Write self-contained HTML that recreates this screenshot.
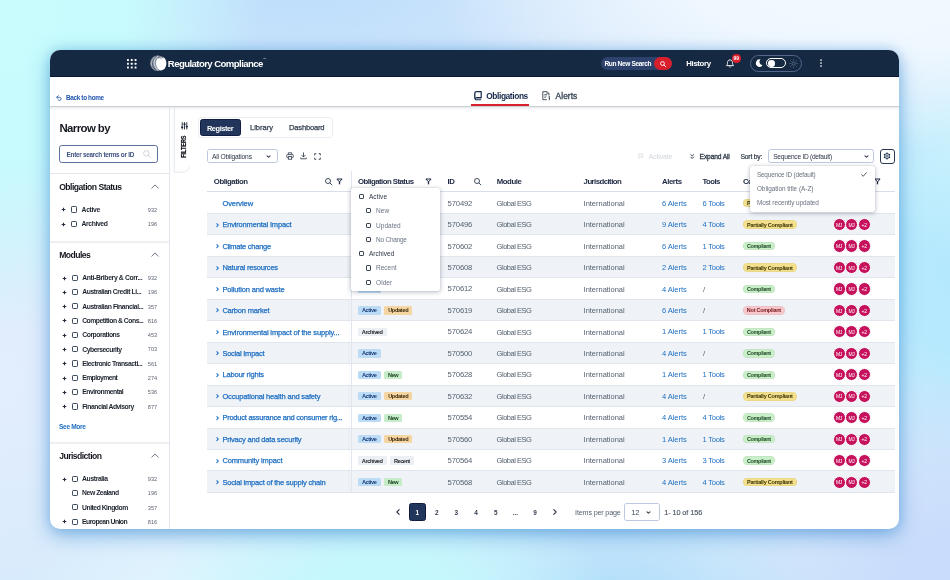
<!DOCTYPE html>
<html lang="en"><head><meta charset="utf-8"><title>Regulatory Compliance - Obligations Register</title>
<style>
html,body{margin:0;padding:0}
body{width:950px;height:580px;overflow:hidden;position:relative;font-family:"Liberation Sans", sans-serif;background:radial-gradient(ellipse 270px 340px at -10px -10px, #c8fcfd 0%, #c7fbfd 50%, rgba(199,251,253,0) 100%),radial-gradient(ellipse 450px 170px at 880px -20px, #f2f9ff 0%, #f0f8ff 40%, rgba(240,248,255,0) 100%),radial-gradient(ellipse 230px 130px at 380px 600px, #c5f9fd 0%, #c5f8fd 30%, rgba(197,248,253,0) 100%),radial-gradient(ellipse 170px 110px at 190px 600px, #e2f6fe 0%, rgba(226,246,254,0) 100%),radial-gradient(ellipse 220px 140px at 610px 610px, #acddfa 0%, rgba(172,221,250,0) 100%),radial-gradient(ellipse 260px 230px at 970px 600px, #c9dcfb 0%, #c9dcfb 30%, rgba(201,220,251,0) 100%),radial-gradient(ellipse 110px 110px at 965px 150px, rgba(200,242,253,.9) 0%, rgba(200,242,253,0) 100%),radial-gradient(ellipse 230px 240px at 975px 270px, #b4e8fd 0%, #b6e9fd 35%, rgba(182,233,253,0) 100%),radial-gradient(ellipse 330px 160px at 300px -20px, #bcdefb 0%, rgba(188,222,251,0) 100%),radial-gradient(ellipse 200px 200px at -10px 380px, #e3eefd 0%, rgba(227,238,253,0) 100%),linear-gradient(180deg,#d3e6fb 0%, #dbe9fc 50%, #d8ebfc 100%);}
.t{position:absolute;white-space:nowrap;font-family:"Liberation Sans", sans-serif}
svg{display:block;overflow:visible}
#stage{position:absolute;left:0;top:0;width:950px;height:580px;will-change:transform;transform:translateZ(0)}

.card{position:absolute;left:50px;top:50px;width:849px;height:479px;border-radius:10px;background:#fff;
 box-shadow:0 6px 20px 0 rgba(40,128,204,.5), 0 0 12px rgba(40,128,204,.24);}
.cb{position:absolute;width:4.3px;height:4.3px;border:1.1px solid #3d4a5c;border-radius:1.2px;box-sizing:content-box;background:#fff}
.badge{position:absolute;height:8.4px;border-radius:1.5px}
.pill{position:absolute;height:8.6px;border-radius:5px;box-shadow:inset 0 0 0 .6px rgba(0,0,0,.07)}
.av{position:absolute;width:11.2px;height:11.2px;border-radius:50%;background:#c6125c;border:.8px solid #fff}

</style></head><body>
<div id="stage">
<div class="card"></div>
<div style="position:absolute;left:50px;top:50px;width:849px;height:27px;background:#152942;border-radius:10px 10px 0 0;border-bottom:1px solid #0a1632;box-sizing:border-box"></div>
<svg style="position:absolute;left:126.75px;top:58.75px;" width="9.5" height="9.5" viewBox="0 0 9.5 9.5" fill="none"><rect x="0" y="0" width="1.9" height="1.9" rx=".5" fill="#fff"/><rect x="0" y="3.8" width="1.9" height="1.9" rx=".5" fill="#fff"/><rect x="0" y="7.6" width="1.9" height="1.9" rx=".5" fill="#fff"/><rect x="3.8" y="0" width="1.9" height="1.9" rx=".5" fill="#fff"/><rect x="3.8" y="3.8" width="1.9" height="1.9" rx=".5" fill="#fff"/><rect x="3.8" y="7.6" width="1.9" height="1.9" rx=".5" fill="#fff"/><rect x="7.6" y="0" width="1.9" height="1.9" rx=".5" fill="#fff"/><rect x="7.6" y="3.8" width="1.9" height="1.9" rx=".5" fill="#fff"/><rect x="7.6" y="7.6" width="1.9" height="1.9" rx=".5" fill="#fff"/></svg>
<svg style="position:absolute;left:150.3px;top:55px;" width="16.4" height="16.4" viewBox="0 0 16.4 16.4" fill="none"><ellipse cx="7.600" cy="8.300" rx="7.500" ry="7.800" fill="#fff" fill-opacity=".5"/><path d="M6.800 1.300C3.400 2.600 1.800 6.400 2.700 10.300c.5 2 1.700 3.600 3.300 4.700" stroke="#152942" stroke-width=".7" stroke-opacity=".7"/><path d="M8.300 1C4.900 2.400 3.700 6.300 4.500 9.900c.5 2.100 1.600 3.900 3.300 5.100" stroke="#fff" stroke-width=".8" stroke-opacity=".75"/><path d="M4.600 2.500C2 4.500 1.100 7.700 1.700 10.700" stroke="#fff" stroke-width=".6" stroke-opacity=".6"/><ellipse cx="11.200" cy="8.500" rx="5.200" ry="6.900" fill="#fff"/><path d="M7.900 3.200c1.600-1.500 4-1.700 5.600-.3" stroke="#152942" stroke-width=".9" stroke-opacity=".85"/><path d="M9.500 3.900c1-.5 2.100-.3 2.800.5" stroke="#152942" stroke-width=".6" stroke-opacity=".6"/></svg>
<span class="t" style="left:167.80px;top:57.66px;font-size:9.6px;line-height:12.48px;color:#fff;font-weight:700;letter-spacing:-0.579px;">Regulatory Compliance</span>
<span class="t" style="left:263.20px;top:58.25px;font-size:3px;line-height:3.9px;color:#fff;">™</span>
<div style="position:absolute;left:600.8px;top:57.2px;width:71.4px;height:13px;border-radius:7px;background:#2c416c"></div>
<div style="position:absolute;left:654px;top:57.2px;width:18.2px;height:13px;border-radius:7px;background:#da1f2c"></div>
<span class="t" style="left:604.40px;top:59.91px;font-size:6.6px;line-height:8.58px;color:#fff;font-weight:700;letter-spacing:-0.368px;">Run New Search</span>
<svg style="position:absolute;left:659.9px;top:60.7px;" width="6" height="6" viewBox="0 0 6 6" fill="none"><circle cx="2.5" cy="2.5" r="1.9" stroke="#fff" stroke-width=".9"/><path d="M3.9 3.9L5.6 5.6" stroke="#fff" stroke-width=".9" stroke-linecap="round"/></svg>
<span class="t" style="left:686.30px;top:59.03px;font-size:7.8px;line-height:10.14px;color:#fff;font-weight:700;letter-spacing:-0.354px;">History</span>
<svg style="position:absolute;left:726.2px;top:59.3px;" width="8" height="9" viewBox="0 0 8 9" fill="none"><path d="M4 .9c-1.6 0-2.5 1.2-2.5 2.8 0 1.7-.5 2.3-1 2.9h7c-.5-.6-1-1.200-1-2.900 0-1.600-.9-2.800-2.500-2.800z" stroke="#fff" stroke-width=".9" stroke-linejoin="round"/><path d="M3.100 7.6a1 1 0 0 0 1.800 0" stroke="#fff" stroke-width=".8"/></svg>
<div style="position:absolute;left:731.8px;top:54.3px;width:8.8px;height:8.8px;border-radius:50%;background:#e0202d"></div>
<span class="t" style="left:733.49px;top:55.91px;font-size:4.9px;line-height:6.37px;color:#fff;font-weight:700;letter-spacing:-0.027px;">99</span>
<div style="position:absolute;left:749.6px;top:54.9px;width:52.2px;height:16.8px;border-radius:9px;border:.9px solid #55668c;box-sizing:border-box"></div>
<svg style="position:absolute;left:754.6px;top:59.3px;" width="8" height="8" viewBox="0 0 8 8" fill="none"><path d="M5.400.5A3.700 3.700 0 1 0 7.600 6.300 3.400 3.400 0 0 1 5.400.5z" fill="#fff"/></svg>
<div style="position:absolute;left:765.7px;top:58.4px;width:20.4px;height:9.8px;border-radius:5px;border:1px solid #fff;box-sizing:border-box"></div>
<div style="position:absolute;left:768px;top:60px;width:6.6px;height:6.6px;border-radius:50%;background:#fff"></div>
<svg style="position:absolute;left:788.8px;top:58.9px;" width="9" height="9" viewBox="0 0 9 9" fill="none"><circle cx="4.500" cy="4.500" r="1.500" stroke="#6a7b9e" stroke-width=".7"/><path d="M4.500 .3v1.300" stroke="#6a7b9e" stroke-width=".7" transform="rotate(0 4.500 4.500)"/><path d="M4.500 .3v1.300" stroke="#6a7b9e" stroke-width=".7" transform="rotate(45 4.500 4.500)"/><path d="M4.500 .3v1.300" stroke="#6a7b9e" stroke-width=".7" transform="rotate(90 4.500 4.500)"/><path d="M4.500 .3v1.300" stroke="#6a7b9e" stroke-width=".7" transform="rotate(135 4.500 4.500)"/><path d="M4.500 .3v1.300" stroke="#6a7b9e" stroke-width=".7" transform="rotate(180 4.500 4.500)"/><path d="M4.500 .3v1.300" stroke="#6a7b9e" stroke-width=".7" transform="rotate(225 4.500 4.500)"/><path d="M4.500 .3v1.300" stroke="#6a7b9e" stroke-width=".7" transform="rotate(270 4.500 4.500)"/><path d="M4.500 .3v1.300" stroke="#6a7b9e" stroke-width=".7" transform="rotate(315 4.500 4.500)"/></svg>
<svg style="position:absolute;left:820.2px;top:59.3px;" width="2" height="8" viewBox="0 0 2 8" fill="none"><circle cx="1" cy="1" r=".85" fill="#fff"/><circle cx="1" cy="4" r=".85" fill="#fff"/><circle cx="1" cy="7" r=".85" fill="#fff"/></svg>
<svg style="position:absolute;left:56.1px;top:94.5px;" width="6" height="5.6" viewBox="0 0 6 5.6" fill="none"><path d="M2.300.7L.7 2.300l1.600 1.600" stroke="#1f55ad" stroke-width=".8" stroke-linecap="round" stroke-linejoin="round"/><path d="M.9 2.300h2.700a1.500 1.500 0 0 1 0 3H2.700" stroke="#1f55ad" stroke-width=".8" stroke-linecap="round"/></svg>
<span class="t" style="left:66.00px;top:93.84px;font-size:6.4px;line-height:8.32px;color:#1f55ad;font-weight:700;letter-spacing:-0.342px;">Back to home</span>
<svg style="position:absolute;left:473.5px;top:90.9px;" width="8" height="9.4" viewBox="0 0 8 9.4" fill="none"><path d="M2.300.7h4.900v6H2.300" stroke="#15284a" stroke-width="1.200" stroke-linejoin="round"/><path d="M2.400.7C1.400.7.800 1.300.800 2.200v5.500" stroke="#15284a" stroke-width="1.300"/><path d="M7.200 6.800H2.200a1 1 0 0 0 0 2h5" stroke="#15284a" stroke-width="1.100" stroke-linejoin="round"/></svg>
<span class="t" style="left:486.20px;top:90.94px;font-size:8.4px;line-height:10.92px;color:#15284a;font-weight:700;letter-spacing:-0.397px;">Obligations</span>
<div style="position:absolute;left:471.2px;top:103.9px;width:58.2px;height:2.2px;background:#d9202d;"></div>
<svg style="position:absolute;left:541.9px;top:90.9px;" width="9" height="9.4" viewBox="0 0 9 9.4" fill="none"><path d="M.8.700h4.300L7 2.600V4.500M.8.700v8h4" stroke="#46515f" stroke-width="1" stroke-linejoin="round"/><path d="M5 .8v2h2" stroke="#46515f" stroke-width=".7"/><path d="M2.300 3.500h2.600M2.300 5h2.600M2.300 6.500h1.600" stroke="#46515f" stroke-width=".75"/><path d="M7.300 5.500v1.900" stroke="#46515f" stroke-width="1.200" stroke-linecap="round"/><circle cx="7.300" cy="8.700" r=".65" fill="#46515f"/></svg>
<span class="t" style="left:555.60px;top:90.94px;font-size:8.4px;line-height:10.92px;color:#3a4658;letter-spacing:0.046px;-webkit-text-stroke:.35px #3a4658;">Alerts</span>
<div style="position:absolute;left:50px;top:106px;width:849px;height:1.2px;background:#cccfd3;"></div>
<div style="position:absolute;left:50px;top:107.2px;width:849px;height:3px;background:linear-gradient(180deg,rgba(40,50,70,.10),rgba(40,50,70,0));"></div>
<div style="position:absolute;left:169px;top:107.2px;width:1px;height:422px;background:#e4e8ee;"></div>
<span class="t" style="left:59.40px;top:120.69px;font-size:11.4px;line-height:14.82px;color:#15181f;font-weight:700;letter-spacing:-0.567px;">Narrow by</span>
<div style="position:absolute;left:59.1px;top:145.3px;width:98.8px;height:17.5px;border:1.25px solid #5d719d;border-radius:2.8px;box-sizing:border-box;background:#fff"></div>
<span class="t" style="left:66.60px;top:150.54px;font-size:6.4px;line-height:8.32px;color:#3d5080;font-weight:700;letter-spacing:-0.285px;">Enter search terms or ID</span>
<svg style="position:absolute;left:143.4px;top:150.4px;" width="8" height="8" viewBox="0 0 8 8" fill="none"><circle cx="3.300" cy="3.300" r="2.700" stroke="#c3c9d3" stroke-width=".8"/><path d="M5.300 5.300L7.500 7.500" stroke="#c3c9d3" stroke-width=".8" stroke-linecap="round"/></svg>
<div style="position:absolute;left:50px;top:172.6px;width:119px;height:1px;background:#e4e8ee;"></div>
<span class="t" style="left:59.20px;top:181.91px;font-size:8.6px;line-height:11.18px;color:#15181f;font-weight:700;letter-spacing:-0.514px;">Obligation Status</span>
<svg style="position:absolute;left:150.5px;top:183.9px;" width="8" height="5" viewBox="0 0 8 5" fill="none"><path d="M.7 4.200L4 .9l3.300 3.300" stroke="#4a5362" stroke-width=".8" stroke-linecap="round" stroke-linejoin="round"/></svg>
<svg style="position:absolute;left:61.1px;top:207.3px;" width="5" height="5" viewBox="0 0 5 5" fill="none"><path d="M2.500.7v3.600M.7 2.500h3.600" stroke="#222b38" stroke-width="1.100"/></svg>
<div class="cb" style="left:70.9px;top:206.4px"></div>
<span class="t" style="left:81.60px;top:205.88px;font-size:6.8px;line-height:8.84px;color:#1d232e;font-weight:700;letter-spacing:-0.334px;">Active</span>
<span class="t" style="left:147.86px;top:206.76px;font-size:5.6px;line-height:7.28px;color:#5d6673;">932</span>
<svg style="position:absolute;left:61.1px;top:221.6px;" width="5" height="5" viewBox="0 0 5 5" fill="none"><path d="M2.500.7v3.600M.7 2.500h3.600" stroke="#222b38" stroke-width="1.100"/></svg>
<div class="cb" style="left:70.9px;top:220.7px"></div>
<span class="t" style="left:81.60px;top:220.18px;font-size:6.8px;line-height:8.84px;color:#1d232e;font-weight:700;letter-spacing:-0.412px;">Archived</span>
<span class="t" style="left:147.86px;top:221.06px;font-size:5.6px;line-height:7.28px;color:#5d6673;">196</span>
<div style="position:absolute;left:50px;top:241.4px;width:119px;height:1.8px;background:#eef0f4;"></div>
<span class="t" style="left:59.20px;top:250.31px;font-size:8.6px;line-height:11.18px;color:#15181f;font-weight:700;letter-spacing:-0.551px;">Modules</span>
<svg style="position:absolute;left:150.5px;top:252.3px;" width="8" height="5" viewBox="0 0 8 5" fill="none"><path d="M.7 4.200L4 .9l3.300 3.300" stroke="#4a5362" stroke-width=".8" stroke-linecap="round" stroke-linejoin="round"/></svg>
<svg style="position:absolute;left:61.7px;top:275.5px;" width="5" height="5" viewBox="0 0 5 5" fill="none"><path d="M2.500.7v3.600M.7 2.500h3.600" stroke="#222b38" stroke-width="1.100"/></svg>
<div class="cb" style="left:71.5px;top:274.6px"></div>
<span class="t" style="left:82.20px;top:274.08px;font-size:6.8px;line-height:8.84px;color:#1d232e;font-weight:700;letter-spacing:-0.346px;">Anti-Bribery &amp; Corr...</span>
<span class="t" style="left:147.86px;top:274.96px;font-size:5.6px;line-height:7.28px;color:#5d6673;">932</span>
<svg style="position:absolute;left:61.7px;top:289.8px;" width="5" height="5" viewBox="0 0 5 5" fill="none"><path d="M2.500.7v3.600M.7 2.500h3.600" stroke="#222b38" stroke-width="1.100"/></svg>
<div class="cb" style="left:71.5px;top:288.9px"></div>
<span class="t" style="left:82.20px;top:288.38px;font-size:6.8px;line-height:8.84px;color:#1d232e;font-weight:700;letter-spacing:-0.407px;">Australian Credit Li...</span>
<span class="t" style="left:147.86px;top:289.26px;font-size:5.6px;line-height:7.28px;color:#5d6673;">196</span>
<svg style="position:absolute;left:61.7px;top:304.1px;" width="5" height="5" viewBox="0 0 5 5" fill="none"><path d="M2.500.7v3.600M.7 2.500h3.600" stroke="#222b38" stroke-width="1.100"/></svg>
<div class="cb" style="left:71.5px;top:303.2px"></div>
<span class="t" style="left:82.20px;top:302.68px;font-size:6.8px;line-height:8.84px;color:#1d232e;font-weight:700;letter-spacing:-0.403px;">Australian Financial...</span>
<span class="t" style="left:147.86px;top:303.56px;font-size:5.6px;line-height:7.28px;color:#5d6673;">357</span>
<svg style="position:absolute;left:61.7px;top:318.4px;" width="5" height="5" viewBox="0 0 5 5" fill="none"><path d="M2.500.7v3.600M.7 2.500h3.600" stroke="#222b38" stroke-width="1.100"/></svg>
<div class="cb" style="left:71.5px;top:317.5px"></div>
<span class="t" style="left:82.20px;top:316.98px;font-size:6.8px;line-height:8.84px;color:#1d232e;font-weight:700;letter-spacing:-0.476px;">Competition &amp; Cons...</span>
<span class="t" style="left:147.86px;top:317.86px;font-size:5.6px;line-height:7.28px;color:#5d6673;">816</span>
<svg style="position:absolute;left:61.7px;top:332.7px;" width="5" height="5" viewBox="0 0 5 5" fill="none"><path d="M2.500.7v3.600M.7 2.500h3.600" stroke="#222b38" stroke-width="1.100"/></svg>
<div class="cb" style="left:71.5px;top:331.8px"></div>
<span class="t" style="left:82.20px;top:331.28px;font-size:6.8px;line-height:8.84px;color:#1d232e;font-weight:700;letter-spacing:-0.431px;">Corporations</span>
<span class="t" style="left:147.86px;top:332.16px;font-size:5.6px;line-height:7.28px;color:#5d6673;">453</span>
<svg style="position:absolute;left:61.7px;top:347px;" width="5" height="5" viewBox="0 0 5 5" fill="none"><path d="M2.500.7v3.600M.7 2.500h3.600" stroke="#222b38" stroke-width="1.100"/></svg>
<div class="cb" style="left:71.5px;top:346.1px"></div>
<span class="t" style="left:82.20px;top:345.58px;font-size:6.8px;line-height:8.84px;color:#1d232e;font-weight:700;letter-spacing:-0.450px;">Cybersecurity</span>
<span class="t" style="left:147.86px;top:346.46px;font-size:5.6px;line-height:7.28px;color:#5d6673;">703</span>
<svg style="position:absolute;left:61.7px;top:361.3px;" width="5" height="5" viewBox="0 0 5 5" fill="none"><path d="M2.500.7v3.600M.7 2.500h3.600" stroke="#222b38" stroke-width="1.100"/></svg>
<div class="cb" style="left:71.5px;top:360.4px"></div>
<span class="t" style="left:82.20px;top:359.88px;font-size:6.8px;line-height:8.84px;color:#1d232e;font-weight:700;letter-spacing:-0.446px;">Electronic Transacti...</span>
<span class="t" style="left:147.86px;top:360.76px;font-size:5.6px;line-height:7.28px;color:#5d6673;">561</span>
<svg style="position:absolute;left:61.7px;top:375.6px;" width="5" height="5" viewBox="0 0 5 5" fill="none"><path d="M2.500.7v3.600M.7 2.500h3.600" stroke="#222b38" stroke-width="1.100"/></svg>
<div class="cb" style="left:71.5px;top:374.7px"></div>
<span class="t" style="left:82.20px;top:374.18px;font-size:6.8px;line-height:8.84px;color:#1d232e;font-weight:700;letter-spacing:-0.580px;">Employment</span>
<span class="t" style="left:147.86px;top:375.06px;font-size:5.6px;line-height:7.28px;color:#5d6673;">274</span>
<svg style="position:absolute;left:61.7px;top:389.9px;" width="5" height="5" viewBox="0 0 5 5" fill="none"><path d="M2.500.7v3.600M.7 2.500h3.600" stroke="#222b38" stroke-width="1.100"/></svg>
<div class="cb" style="left:71.5px;top:389px"></div>
<span class="t" style="left:82.20px;top:388.48px;font-size:6.8px;line-height:8.84px;color:#1d232e;font-weight:700;letter-spacing:-0.478px;">Environmental</span>
<span class="t" style="left:147.86px;top:389.36px;font-size:5.6px;line-height:7.28px;color:#5d6673;">536</span>
<svg style="position:absolute;left:61.7px;top:404.2px;" width="5" height="5" viewBox="0 0 5 5" fill="none"><path d="M2.500.7v3.600M.7 2.500h3.600" stroke="#222b38" stroke-width="1.100"/></svg>
<div class="cb" style="left:71.5px;top:403.3px"></div>
<span class="t" style="left:82.20px;top:402.78px;font-size:6.8px;line-height:8.84px;color:#1d232e;font-weight:700;letter-spacing:-0.483px;">Financial Advisory</span>
<span class="t" style="left:147.86px;top:403.66px;font-size:5.6px;line-height:7.28px;color:#5d6673;">877</span>
<span class="t" style="left:59.00px;top:422.81px;font-size:6.6px;line-height:8.58px;color:#1f6fc2;font-weight:700;letter-spacing:-0.341px;">See More</span>
<div style="position:absolute;left:50px;top:442px;width:119px;height:1.8px;background:#eef0f4;"></div>
<span class="t" style="left:59.20px;top:451.41px;font-size:8.6px;line-height:11.18px;color:#15181f;font-weight:700;letter-spacing:-0.535px;">Jurisdiction</span>
<svg style="position:absolute;left:150.5px;top:453.4px;" width="8" height="5" viewBox="0 0 8 5" fill="none"><path d="M.7 4.200L4 .9l3.300 3.300" stroke="#4a5362" stroke-width=".8" stroke-linecap="round" stroke-linejoin="round"/></svg>
<svg style="position:absolute;left:62.1px;top:476.5px;" width="5" height="5" viewBox="0 0 5 5" fill="none"><path d="M2.500.7v3.600M.7 2.500h3.600" stroke="#222b38" stroke-width="1.100"/></svg>
<div class="cb" style="left:71.9px;top:475.6px"></div>
<span class="t" style="left:82.10px;top:475.08px;font-size:6.8px;line-height:8.84px;color:#1d232e;font-weight:700;letter-spacing:-0.388px;">Australia</span>
<span class="t" style="left:147.86px;top:475.96px;font-size:5.6px;line-height:7.28px;color:#5d6673;">932</span>
<div class="cb" style="left:71.9px;top:489.9px"></div>
<span class="t" style="left:82.10px;top:489.38px;font-size:6.8px;line-height:8.84px;color:#1d232e;font-weight:700;letter-spacing:-0.451px;">New Zealand</span>
<span class="t" style="left:147.86px;top:490.26px;font-size:5.6px;line-height:7.28px;color:#5d6673;">196</span>
<div class="cb" style="left:71.9px;top:504.2px"></div>
<span class="t" style="left:82.10px;top:503.68px;font-size:6.8px;line-height:8.84px;color:#1d232e;font-weight:700;letter-spacing:-0.492px;">United Kingdom</span>
<span class="t" style="left:147.86px;top:504.56px;font-size:5.6px;line-height:7.28px;color:#5d6673;">357</span>
<svg style="position:absolute;left:62.1px;top:519.4px;" width="5" height="5" viewBox="0 0 5 5" fill="none"><path d="M2.500.7v3.600M.7 2.500h3.600" stroke="#222b38" stroke-width="1.100"/></svg>
<div class="cb" style="left:71.9px;top:518.5px"></div>
<span class="t" style="left:82.10px;top:517.98px;font-size:6.8px;line-height:8.84px;color:#1d232e;font-weight:700;letter-spacing:-0.536px;">European Union</span>
<span class="t" style="left:147.86px;top:518.86px;font-size:5.6px;line-height:7.28px;color:#5d6673;">816</span>
<svg style="position:absolute;left:170px;top:107px" width="24" height="70" viewBox="0 0 24 70" fill="none"><path d="M4.200 0V65.200H11.500C15.800 65.200 18.800 63.400 19.400 59.600" stroke="#e3e7ed" stroke-width="1"/></svg>
<svg style="position:absolute;left:180.6px;top:121.7px;" width="7" height="7.6" viewBox="0 0 7 7.6" fill="none"><path d="M1.200.2v7.200M3.500.2v7.200M5.800.2v7.200" stroke="#1c2433" stroke-width=".9"/><rect x=".2" y="4.600" width="2" height="1.500" fill="#1c2433"/><rect x="2.500" y="1.500" width="2" height="1.500" fill="#1c2433"/><rect x="4.800" y="3.800" width="2" height="1.500" fill="#1c2433"/></svg>
<span class="t" style="left:169.49px;top:141.72px;font-size:7.2px;line-height:9.36px;color:#0e1117;font-weight:700;transform:rotate(-90deg) scaleX(.76);transform-origin:50% 50%;-webkit-text-stroke:.2px #0e1117;">FILTERS</span>
<div style="position:absolute;left:198.300px;top:117.1px;width:135.2px;height:21.4px;border:1px solid #eaedf3;border-radius:3.5px;box-sizing:border-box;background:#fff"></div>
<div style="position:absolute;left:200px;top:118.9px;width:41px;height:17.6px;border-radius:2.5px;background:#22355a;border:1px solid #101d40;box-sizing:border-box"></div>
<span class="t" style="left:206.90px;top:123.59px;font-size:7.4px;line-height:9.62px;color:#fff;font-weight:700;letter-spacing:-0.397px;">Register</span>
<span class="t" style="left:250.00px;top:123.46px;font-size:7.6px;line-height:9.88px;color:#343f4f;letter-spacing:-0.046px;-webkit-text-stroke:.25px #343f4f;">Library</span>
<span class="t" style="left:289.10px;top:123.46px;font-size:7.6px;line-height:9.88px;color:#343f4f;letter-spacing:-0.228px;-webkit-text-stroke:.25px #343f4f;">Dashboard</span>
<div style="position:absolute;left:206.700px;top:149.4px;width:71px;height:13.9px;border:1.2px solid #bcc8df;border-radius:2.5px;box-sizing:border-box;background:#fff"></div>
<span class="t" style="left:211.90px;top:152.65px;font-size:6.7px;line-height:8.71px;color:#2b3544;letter-spacing:-0.190px;">All Obligations</span>
<svg style="position:absolute;left:266.4px;top:154.85px;" width="5" height="3.3" viewBox="0 0 5 3.3" fill="none"><path d="M1 .800L2.500 2.200 4 .8" stroke="#2f3a4a" stroke-width="1.050" stroke-linecap="round" stroke-linejoin="round"/></svg>
<svg style="position:absolute;left:285.7px;top:152.3px;" width="8" height="8" viewBox="0 0 8 8" fill="none"><path d="M2.300 2.600V.8h3.400v1.800" stroke="#2b3544" stroke-width=".8"/><rect x=".7" y="2.600" width="6.600" height="3" rx=".8" stroke="#2b3544" stroke-width=".8"/><rect x="2.300" y="4.600" width="3.400" height="2.600" fill="#fff" stroke="#2b3544" stroke-width=".8"/></svg>
<svg style="position:absolute;left:300.4px;top:152.3px;" width="7" height="8" viewBox="0 0 7 8" fill="none"><path d="M3.500.8v4M1.900 3.400l1.600 1.600 1.600-1.600" stroke="#2b3544" stroke-width=".8" stroke-linecap="round" stroke-linejoin="round"/><path d="M.7 5.500v1.300h5.600V5.500" stroke="#2b3544" stroke-width=".8" stroke-linejoin="round"/></svg>
<svg style="position:absolute;left:314.4px;top:152.8px;" width="7" height="7" viewBox="0 0 7 7" fill="none"><path d="M.7 2.300V.7h1.600M4.700.7h1.600v1.600M6.300 4.700v1.600H4.700M2.300 6.300H.7V4.700" stroke="#2b3544" stroke-width=".9"/></svg>
<svg style="position:absolute;left:638.3px;top:153.1px;" width="6" height="6.4" viewBox="0 0 6 6.4" fill="none"><path d="M.9.600v5.400M.9 1h4.200L4.200 2.500l.9 1.500H.9" stroke="#d3d7de" stroke-width=".7" stroke-linejoin="round"/></svg>
<span class="t" style="left:648.80px;top:152.58px;font-size:6.8px;line-height:8.84px;color:#d0d4db;letter-spacing:-0.098px;">Activate</span>
<svg style="position:absolute;left:690.3px;top:153.6px;" width="4.4" height="5.4" viewBox="0 0 4.4 5.4" fill="none"><path d="M.8.700L2.200 2 3.600.7M.8 3.100L2.200 4.500 3.600 3.100" stroke="#2b3544" stroke-width=".95" stroke-linecap="round" stroke-linejoin="round"/></svg>
<span class="t" style="left:699.60px;top:152.65px;font-size:6.7px;line-height:8.71px;color:#2b3544;letter-spacing:-0.151px;-webkit-text-stroke:.28px #2b3544;">Expand All</span>
<span class="t" style="left:740.50px;top:152.58px;font-size:6.8px;line-height:8.84px;color:#2b3544;letter-spacing:-0.228px;-webkit-text-stroke:.2px #2b3544;">Sort by:</span>
<div style="position:absolute;left:768px;top:149.1px;width:106.4px;height:14.2px;border:1.2px solid #bcc8df;border-radius:2.5px;box-sizing:border-box;background:#fff"></div>
<span class="t" style="left:773.20px;top:152.71px;font-size:6.6px;line-height:8.58px;color:#2b3544;letter-spacing:-0.260px;">Sequence ID (default)</span>
<svg style="position:absolute;left:863.5px;top:154.85px;" width="5" height="3.3" viewBox="0 0 5 3.3" fill="none"><path d="M1 .800L2.500 2.200 4 .8" stroke="#2f3a4a" stroke-width="1.050" stroke-linecap="round" stroke-linejoin="round"/></svg>
<div style="position:absolute;left:880px;top:149px;width:14.8px;height:14.6px;border:1.3px solid #27374f;border-radius:3px;box-sizing:border-box;background:#fff"></div>
<svg style="position:absolute;left:883.4px;top:152.4px;" width="8" height="8" viewBox="0 0 8 8" fill="none"><circle cx="4" cy="4" r="1.100" stroke="#15284a" stroke-width=".7"/><circle cx="4" cy="4" r="2.500" stroke="#15284a" stroke-width=".8"/><path d="M4 .5v1.200" stroke="#15284a" stroke-width="1.100" transform="rotate(0 4 4)"/><path d="M4 .5v1.200" stroke="#15284a" stroke-width="1.100" transform="rotate(60 4 4)"/><path d="M4 .5v1.200" stroke="#15284a" stroke-width="1.100" transform="rotate(120 4 4)"/><path d="M4 .5v1.200" stroke="#15284a" stroke-width="1.100" transform="rotate(180 4 4)"/><path d="M4 .5v1.200" stroke="#15284a" stroke-width="1.100" transform="rotate(240 4 4)"/><path d="M4 .5v1.200" stroke="#15284a" stroke-width="1.100" transform="rotate(300 4 4)"/></svg>
<span class="t" style="left:213.80px;top:177.13px;font-size:7.8px;line-height:10.14px;color:#1c2740;font-weight:700;letter-spacing:-0.485px;">Obligation</span>
<svg style="position:absolute;left:324.7px;top:178.1px;" width="7" height="7" viewBox="0 0 7 7" fill="none"><circle cx="3" cy="3" r="2.500" stroke="#3a4556" stroke-width=".95"/><path d="M4.900 4.900L6.900 6.900" stroke="#3a4556" stroke-width=".95" stroke-linecap="round"/></svg>
<svg style="position:absolute;left:335.7px;top:178.3px;" width="7" height="7" viewBox="0 0 7 7" fill="none"><path d="M.9 1h5.200L3.500 3.900z" stroke="#1c2740" stroke-width="1" stroke-linejoin="round"/><path d="M3.500 3.600v2.700" stroke="#1c2740" stroke-width="1.300"/></svg>
<span class="t" style="left:357.90px;top:177.13px;font-size:7.8px;line-height:10.14px;color:#1c2740;font-weight:700;letter-spacing:-0.526px;">Obligation Status</span>
<svg style="position:absolute;left:425px;top:178.3px;" width="7" height="7" viewBox="0 0 7 7" fill="none"><path d="M.9 1h5.200L3.500 3.900z" stroke="#1c2740" stroke-width="1" stroke-linejoin="round"/><path d="M3.500 3.600v2.700" stroke="#1c2740" stroke-width="1.300"/></svg>
<span class="t" style="left:447.60px;top:177.13px;font-size:7.8px;line-height:10.14px;color:#1c2740;font-weight:700;letter-spacing:-0.406px;">ID</span>
<svg style="position:absolute;left:474.1px;top:178.1px;" width="7" height="7" viewBox="0 0 7 7" fill="none"><circle cx="3" cy="3" r="2.500" stroke="#3a4556" stroke-width=".95"/><path d="M4.900 4.900L6.900 6.900" stroke="#3a4556" stroke-width=".95" stroke-linecap="round"/></svg>
<span class="t" style="left:496.70px;top:177.13px;font-size:7.8px;line-height:10.14px;color:#1c2740;font-weight:700;letter-spacing:-0.416px;">Module</span>
<span class="t" style="left:583.60px;top:177.13px;font-size:7.8px;line-height:10.14px;color:#1c2740;font-weight:700;letter-spacing:-0.550px;">Jurisdcition</span>
<span class="t" style="left:661.90px;top:177.13px;font-size:7.8px;line-height:10.14px;color:#1c2740;font-weight:700;letter-spacing:-0.385px;">Alerts</span>
<span class="t" style="left:702.50px;top:177.13px;font-size:7.8px;line-height:10.14px;color:#1c2740;font-weight:700;letter-spacing:-0.600px;">Tools</span>
<span class="t" style="left:742.90px;top:177.13px;font-size:7.8px;line-height:10.14px;color:#1c2740;font-weight:700;letter-spacing:-0.600px;">Compliance</span>
<svg style="position:absolute;left:874.3px;top:178.3px;" width="7" height="7" viewBox="0 0 7 7" fill="none"><path d="M.9 1h5.200L3.500 3.900z" stroke="#1c2740" stroke-width="1" stroke-linejoin="round"/><path d="M3.500 3.600v2.700" stroke="#1c2740" stroke-width="1.300"/></svg>
<div style="position:absolute;left:206.7px;top:191.1px;width:688px;height:1.3px;background:#d9dfea;"></div>
<div style="position:absolute;left:206.7px;top:212.96px;width:688px;height:1px;background:#e1e6ed;"></div>
<span class="t" style="left:222.40px;top:198.75px;font-size:7.5px;line-height:9.75px;color:#1f6fc2;letter-spacing:-0.083px;-webkit-text-stroke:.25px #1f6fc2;">Overview</span>
<span class="t" style="left:447.60px;top:198.62px;font-size:7.7px;line-height:10.01px;color:#566270;letter-spacing:-0.176px;">570492</span>
<span class="t" style="left:496.60px;top:198.75px;font-size:7.5px;line-height:9.75px;color:#566270;letter-spacing:-0.481px;">Global ESG</span>
<span class="t" style="left:583.60px;top:198.75px;font-size:7.5px;line-height:9.75px;color:#566270;letter-spacing:-0.022px;">International</span>
<span class="t" style="left:662.00px;top:198.69px;font-size:7.6px;line-height:9.88px;color:#1f6fc2;letter-spacing:-0.079px;">6 Alerts</span>
<span class="t" style="left:702.60px;top:198.69px;font-size:7.6px;line-height:9.88px;color:#1f6fc2;letter-spacing:-0.291px;">6 Tools</span>
<div class="pill" style="left:742.8px;top:198.83px;width:54.4px;background:#f4e08c"></div>
<span class="t" style="left:747.09px;top:200.16px;font-size:5.5px;line-height:7.15px;color:#3a3205;font-weight:700;letter-spacing:-0.223px;">Partially Compliant</span>
<div style="position:absolute;left:206.7px;top:213.96px;width:688px;height:20.46px;background:#eff3f7;"></div>
<div style="position:absolute;left:206.7px;top:234.42px;width:688px;height:1px;background:#e1e6ed;"></div>
<svg style="position:absolute;left:215.5px;top:222.59px;" width="3" height="4.4" viewBox="0 0 3 4.4" fill="none"><path d="M.8.700L2.300 2.200.8 3.700" stroke="#1f6fc2" stroke-width="1.050" stroke-linecap="round" stroke-linejoin="round"/></svg>
<span class="t" style="left:222.40px;top:220.22px;font-size:7.5px;line-height:9.75px;color:#1f6fc2;letter-spacing:-0.177px;-webkit-text-stroke:.25px #1f6fc2;">Environmental Impact</span>
<span class="t" style="left:447.60px;top:220.09px;font-size:7.7px;line-height:10.01px;color:#566270;letter-spacing:-0.176px;">570496</span>
<span class="t" style="left:496.60px;top:220.22px;font-size:7.5px;line-height:9.75px;color:#566270;letter-spacing:-0.481px;">Global ESG</span>
<span class="t" style="left:583.60px;top:220.22px;font-size:7.5px;line-height:9.75px;color:#566270;letter-spacing:-0.022px;">International</span>
<span class="t" style="left:662.00px;top:220.15px;font-size:7.6px;line-height:9.88px;color:#1f6fc2;letter-spacing:-0.079px;">9 Alerts</span>
<span class="t" style="left:702.60px;top:220.15px;font-size:7.6px;line-height:9.88px;color:#1f6fc2;letter-spacing:-0.291px;">4 Tools</span>
<div class="pill" style="left:742.8px;top:220.29px;width:54.4px;background:#f4e08c"></div>
<span class="t" style="left:747.09px;top:221.62px;font-size:5.5px;line-height:7.15px;color:#3a3205;font-weight:700;letter-spacing:-0.223px;">Partially Compliant</span>
<div class="av" style="left:832.7px;top:217.99px"></div>
<span class="t" style="left:835.96px;top:221.74px;font-size:5px;line-height:6.5px;color:#fff;letter-spacing:-0.386px;">MJ</span>
<div class="av" style="left:845.3px;top:217.99px"></div>
<span class="t" style="left:848.56px;top:221.74px;font-size:5px;line-height:6.5px;color:#fff;letter-spacing:-0.386px;">MJ</span>
<div class="av" style="left:857.9px;top:217.99px"></div>
<span class="t" style="left:861.52px;top:221.74px;font-size:5px;line-height:6.5px;color:#fff;letter-spacing:-0.152px;">+2</span>
<div style="position:absolute;left:206.7px;top:255.88px;width:688px;height:1px;background:#e1e6ed;"></div>
<svg style="position:absolute;left:215.5px;top:244.05px;" width="3" height="4.4" viewBox="0 0 3 4.4" fill="none"><path d="M.8.700L2.300 2.200.8 3.700" stroke="#1f6fc2" stroke-width="1.050" stroke-linecap="round" stroke-linejoin="round"/></svg>
<span class="t" style="left:222.40px;top:241.68px;font-size:7.5px;line-height:9.75px;color:#1f6fc2;letter-spacing:-0.259px;-webkit-text-stroke:.25px #1f6fc2;">Climate change</span>
<span class="t" style="left:447.60px;top:241.55px;font-size:7.7px;line-height:10.01px;color:#566270;letter-spacing:-0.176px;">570602</span>
<span class="t" style="left:496.60px;top:241.68px;font-size:7.5px;line-height:9.75px;color:#566270;letter-spacing:-0.481px;">Global ESG</span>
<span class="t" style="left:583.60px;top:241.68px;font-size:7.5px;line-height:9.75px;color:#566270;letter-spacing:-0.022px;">International</span>
<span class="t" style="left:662.00px;top:241.61px;font-size:7.6px;line-height:9.88px;color:#1f6fc2;letter-spacing:-0.079px;">6 Alerts</span>
<span class="t" style="left:702.60px;top:241.61px;font-size:7.6px;line-height:9.88px;color:#1f6fc2;letter-spacing:-0.291px;">1 Tools</span>
<div class="pill" style="left:742.8px;top:241.75px;width:32.4px;background:#c9efc9"></div>
<span class="t" style="left:746.93px;top:243.08px;font-size:5.5px;line-height:7.15px;color:#1c4722;font-weight:700;letter-spacing:-0.343px;">Compliant</span>
<div class="av" style="left:832.7px;top:239.45px"></div>
<span class="t" style="left:835.96px;top:243.20px;font-size:5px;line-height:6.5px;color:#fff;letter-spacing:-0.386px;">MJ</span>
<div class="av" style="left:845.3px;top:239.45px"></div>
<span class="t" style="left:848.56px;top:243.20px;font-size:5px;line-height:6.5px;color:#fff;letter-spacing:-0.386px;">MJ</span>
<div class="av" style="left:857.9px;top:239.45px"></div>
<span class="t" style="left:861.52px;top:243.20px;font-size:5px;line-height:6.5px;color:#fff;letter-spacing:-0.152px;">+2</span>
<div style="position:absolute;left:206.7px;top:256.88px;width:688px;height:20.46px;background:#eff3f7;"></div>
<div style="position:absolute;left:206.7px;top:277.34px;width:688px;height:1px;background:#e1e6ed;"></div>
<svg style="position:absolute;left:215.5px;top:265.51px;" width="3" height="4.4" viewBox="0 0 3 4.4" fill="none"><path d="M.8.700L2.300 2.200.8 3.700" stroke="#1f6fc2" stroke-width="1.050" stroke-linecap="round" stroke-linejoin="round"/></svg>
<span class="t" style="left:222.40px;top:263.14px;font-size:7.5px;line-height:9.75px;color:#1f6fc2;letter-spacing:-0.218px;-webkit-text-stroke:.25px #1f6fc2;">Natural resources</span>
<span class="t" style="left:447.60px;top:263.01px;font-size:7.7px;line-height:10.01px;color:#566270;letter-spacing:-0.176px;">570608</span>
<span class="t" style="left:496.60px;top:263.14px;font-size:7.5px;line-height:9.75px;color:#566270;letter-spacing:-0.481px;">Global ESG</span>
<span class="t" style="left:583.60px;top:263.14px;font-size:7.5px;line-height:9.75px;color:#566270;letter-spacing:-0.022px;">International</span>
<span class="t" style="left:662.00px;top:263.07px;font-size:7.6px;line-height:9.88px;color:#1f6fc2;letter-spacing:-0.079px;">2 Alerts</span>
<span class="t" style="left:702.60px;top:263.07px;font-size:7.6px;line-height:9.88px;color:#1f6fc2;letter-spacing:-0.291px;">2 Tools</span>
<div class="pill" style="left:742.8px;top:263.21px;width:54.4px;background:#f4e08c"></div>
<span class="t" style="left:747.09px;top:264.54px;font-size:5.5px;line-height:7.15px;color:#3a3205;font-weight:700;letter-spacing:-0.223px;">Partially Compliant</span>
<div class="av" style="left:832.7px;top:260.91px"></div>
<span class="t" style="left:835.96px;top:264.66px;font-size:5px;line-height:6.5px;color:#fff;letter-spacing:-0.386px;">MJ</span>
<div class="av" style="left:845.3px;top:260.91px"></div>
<span class="t" style="left:848.56px;top:264.66px;font-size:5px;line-height:6.5px;color:#fff;letter-spacing:-0.386px;">MJ</span>
<div class="av" style="left:857.9px;top:260.91px"></div>
<span class="t" style="left:861.52px;top:264.66px;font-size:5px;line-height:6.5px;color:#fff;letter-spacing:-0.152px;">+2</span>
<div style="position:absolute;left:206.7px;top:298.8px;width:688px;height:1px;background:#e1e6ed;"></div>
<svg style="position:absolute;left:215.5px;top:286.97px;" width="3" height="4.4" viewBox="0 0 3 4.4" fill="none"><path d="M.8.700L2.300 2.200.8 3.700" stroke="#1f6fc2" stroke-width="1.050" stroke-linecap="round" stroke-linejoin="round"/></svg>
<span class="t" style="left:222.40px;top:284.60px;font-size:7.5px;line-height:9.75px;color:#1f6fc2;letter-spacing:-0.160px;-webkit-text-stroke:.25px #1f6fc2;">Pollution and waste</span>
<div class="badge" style="left:358.1px;top:284.77px;width:22.6px;background:#bcdcf6"></div>
<span class="t" style="left:361.92px;top:285.93px;font-size:5.6px;line-height:7.28px;color:#173b78;font-weight:700;letter-spacing:-0.366px;">Active</span>
<span class="t" style="left:447.60px;top:284.47px;font-size:7.7px;line-height:10.01px;color:#566270;letter-spacing:-0.176px;">570612</span>
<span class="t" style="left:496.60px;top:284.60px;font-size:7.5px;line-height:9.75px;color:#566270;letter-spacing:-0.481px;">Global ESG</span>
<span class="t" style="left:583.60px;top:284.60px;font-size:7.5px;line-height:9.75px;color:#566270;letter-spacing:-0.022px;">International</span>
<span class="t" style="left:662.00px;top:284.53px;font-size:7.6px;line-height:9.88px;color:#1f6fc2;letter-spacing:-0.079px;">4 Alerts</span>
<span class="t" style="left:703.00px;top:284.60px;font-size:7.5px;line-height:9.75px;color:#566270;">/</span>
<div class="pill" style="left:742.8px;top:284.67px;width:32.4px;background:#c9efc9"></div>
<span class="t" style="left:746.93px;top:286.00px;font-size:5.5px;line-height:7.15px;color:#1c4722;font-weight:700;letter-spacing:-0.343px;">Compliant</span>
<div class="av" style="left:832.7px;top:282.37px"></div>
<span class="t" style="left:835.96px;top:286.12px;font-size:5px;line-height:6.5px;color:#fff;letter-spacing:-0.386px;">MJ</span>
<div class="av" style="left:845.3px;top:282.37px"></div>
<span class="t" style="left:848.56px;top:286.12px;font-size:5px;line-height:6.5px;color:#fff;letter-spacing:-0.386px;">MJ</span>
<div class="av" style="left:857.9px;top:282.37px"></div>
<span class="t" style="left:861.52px;top:286.12px;font-size:5px;line-height:6.5px;color:#fff;letter-spacing:-0.152px;">+2</span>
<div style="position:absolute;left:206.7px;top:299.8px;width:688px;height:20.46px;background:#eff3f7;"></div>
<div style="position:absolute;left:206.7px;top:320.26px;width:688px;height:1px;background:#e1e6ed;"></div>
<svg style="position:absolute;left:215.5px;top:308.43px;" width="3" height="4.4" viewBox="0 0 3 4.4" fill="none"><path d="M.8.700L2.300 2.200.8 3.700" stroke="#1f6fc2" stroke-width="1.050" stroke-linecap="round" stroke-linejoin="round"/></svg>
<span class="t" style="left:222.40px;top:306.06px;font-size:7.5px;line-height:9.75px;color:#1f6fc2;letter-spacing:-0.201px;-webkit-text-stroke:.25px #1f6fc2;">Carbon market</span>
<div class="badge" style="left:358.1px;top:306.23px;width:22.6px;background:#bcdcf6"></div>
<span class="t" style="left:361.92px;top:307.39px;font-size:5.6px;line-height:7.28px;color:#173b78;font-weight:700;letter-spacing:-0.366px;">Active</span>
<div class="badge" style="left:384.3px;top:306.23px;width:28.2px;background:#f5d6a3"></div>
<span class="t" style="left:388.14px;top:307.39px;font-size:5.6px;line-height:7.28px;color:#3b2a0e;font-weight:700;letter-spacing:-0.311px;">Updated</span>
<span class="t" style="left:447.60px;top:305.93px;font-size:7.7px;line-height:10.01px;color:#566270;letter-spacing:-0.176px;">570619</span>
<span class="t" style="left:496.60px;top:306.06px;font-size:7.5px;line-height:9.75px;color:#566270;letter-spacing:-0.481px;">Global ESG</span>
<span class="t" style="left:583.60px;top:306.06px;font-size:7.5px;line-height:9.75px;color:#566270;letter-spacing:-0.022px;">International</span>
<span class="t" style="left:662.00px;top:305.99px;font-size:7.6px;line-height:9.88px;color:#1f6fc2;letter-spacing:-0.079px;">6 Alerts</span>
<span class="t" style="left:703.00px;top:306.06px;font-size:7.5px;line-height:9.75px;color:#566270;">/</span>
<div class="pill" style="left:742.8px;top:306.13px;width:42.4px;background:#f6c8cb"></div>
<span class="t" style="left:746.86px;top:307.46px;font-size:5.5px;line-height:7.15px;color:#7a1820;font-weight:700;letter-spacing:-0.276px;">Not Compliant</span>
<div class="av" style="left:832.7px;top:303.83px"></div>
<span class="t" style="left:835.96px;top:307.58px;font-size:5px;line-height:6.5px;color:#fff;letter-spacing:-0.386px;">MJ</span>
<div class="av" style="left:845.3px;top:303.83px"></div>
<span class="t" style="left:848.56px;top:307.58px;font-size:5px;line-height:6.5px;color:#fff;letter-spacing:-0.386px;">MJ</span>
<div class="av" style="left:857.9px;top:303.83px"></div>
<span class="t" style="left:861.52px;top:307.58px;font-size:5px;line-height:6.5px;color:#fff;letter-spacing:-0.152px;">+2</span>
<div style="position:absolute;left:206.7px;top:341.72px;width:688px;height:1px;background:#e1e6ed;"></div>
<svg style="position:absolute;left:215.5px;top:329.89px;" width="3" height="4.4" viewBox="0 0 3 4.4" fill="none"><path d="M.8.700L2.300 2.200.8 3.700" stroke="#1f6fc2" stroke-width="1.050" stroke-linecap="round" stroke-linejoin="round"/></svg>
<span class="t" style="left:222.40px;top:327.52px;font-size:7.5px;line-height:9.75px;color:#1f6fc2;letter-spacing:-0.147px;-webkit-text-stroke:.25px #1f6fc2;">Environmental impact of the supply...</span>
<div class="badge" style="left:358.1px;top:327.69px;width:28.6px;background:#eceff3"></div>
<span class="t" style="left:361.80px;top:328.85px;font-size:5.6px;line-height:7.28px;color:#20252d;font-weight:700;letter-spacing:-0.392px;">Archived</span>
<span class="t" style="left:447.60px;top:327.39px;font-size:7.7px;line-height:10.01px;color:#566270;letter-spacing:-0.176px;">570624</span>
<span class="t" style="left:496.60px;top:327.52px;font-size:7.5px;line-height:9.75px;color:#566270;letter-spacing:-0.481px;">Global ESG</span>
<span class="t" style="left:583.60px;top:327.52px;font-size:7.5px;line-height:9.75px;color:#566270;letter-spacing:-0.022px;">International</span>
<span class="t" style="left:662.00px;top:327.45px;font-size:7.6px;line-height:9.88px;color:#1f6fc2;letter-spacing:-0.079px;">1 Alerts</span>
<span class="t" style="left:702.60px;top:327.45px;font-size:7.6px;line-height:9.88px;color:#1f6fc2;letter-spacing:-0.291px;">1 Tools</span>
<div class="pill" style="left:742.8px;top:327.59px;width:32.4px;background:#c9efc9"></div>
<span class="t" style="left:746.93px;top:328.92px;font-size:5.5px;line-height:7.15px;color:#1c4722;font-weight:700;letter-spacing:-0.343px;">Compliant</span>
<div class="av" style="left:832.7px;top:325.29px"></div>
<span class="t" style="left:835.96px;top:329.04px;font-size:5px;line-height:6.5px;color:#fff;letter-spacing:-0.386px;">MJ</span>
<div class="av" style="left:845.3px;top:325.29px"></div>
<span class="t" style="left:848.56px;top:329.04px;font-size:5px;line-height:6.5px;color:#fff;letter-spacing:-0.386px;">MJ</span>
<div class="av" style="left:857.9px;top:325.29px"></div>
<span class="t" style="left:861.52px;top:329.04px;font-size:5px;line-height:6.5px;color:#fff;letter-spacing:-0.152px;">+2</span>
<div style="position:absolute;left:206.7px;top:342.72px;width:688px;height:20.46px;background:#eff3f7;"></div>
<div style="position:absolute;left:206.7px;top:363.18px;width:688px;height:1px;background:#e1e6ed;"></div>
<svg style="position:absolute;left:215.5px;top:351.35px;" width="3" height="4.4" viewBox="0 0 3 4.4" fill="none"><path d="M.8.700L2.300 2.200.8 3.700" stroke="#1f6fc2" stroke-width="1.050" stroke-linecap="round" stroke-linejoin="round"/></svg>
<span class="t" style="left:222.40px;top:348.98px;font-size:7.5px;line-height:9.75px;color:#1f6fc2;letter-spacing:-0.233px;-webkit-text-stroke:.25px #1f6fc2;">Social Impact</span>
<div class="badge" style="left:358.1px;top:349.15px;width:22.6px;background:#bcdcf6"></div>
<span class="t" style="left:361.92px;top:350.31px;font-size:5.6px;line-height:7.28px;color:#173b78;font-weight:700;letter-spacing:-0.366px;">Active</span>
<span class="t" style="left:447.60px;top:348.85px;font-size:7.7px;line-height:10.01px;color:#566270;letter-spacing:-0.176px;">570500</span>
<span class="t" style="left:496.60px;top:348.98px;font-size:7.5px;line-height:9.75px;color:#566270;letter-spacing:-0.481px;">Global ESG</span>
<span class="t" style="left:583.60px;top:348.98px;font-size:7.5px;line-height:9.75px;color:#566270;letter-spacing:-0.022px;">International</span>
<span class="t" style="left:662.00px;top:348.91px;font-size:7.6px;line-height:9.88px;color:#1f6fc2;letter-spacing:-0.079px;">4 Alerts</span>
<span class="t" style="left:703.00px;top:348.98px;font-size:7.5px;line-height:9.75px;color:#566270;">/</span>
<div class="pill" style="left:742.8px;top:349.05px;width:32.4px;background:#c9efc9"></div>
<span class="t" style="left:746.93px;top:350.38px;font-size:5.5px;line-height:7.15px;color:#1c4722;font-weight:700;letter-spacing:-0.343px;">Compliant</span>
<div class="av" style="left:832.7px;top:346.75px"></div>
<span class="t" style="left:835.96px;top:350.50px;font-size:5px;line-height:6.5px;color:#fff;letter-spacing:-0.386px;">MJ</span>
<div class="av" style="left:845.3px;top:346.75px"></div>
<span class="t" style="left:848.56px;top:350.50px;font-size:5px;line-height:6.5px;color:#fff;letter-spacing:-0.386px;">MJ</span>
<div class="av" style="left:857.9px;top:346.75px"></div>
<span class="t" style="left:861.52px;top:350.50px;font-size:5px;line-height:6.5px;color:#fff;letter-spacing:-0.152px;">+2</span>
<div style="position:absolute;left:206.7px;top:384.64px;width:688px;height:1px;background:#e1e6ed;"></div>
<svg style="position:absolute;left:215.5px;top:372.81px;" width="3" height="4.4" viewBox="0 0 3 4.4" fill="none"><path d="M.8.700L2.300 2.200.8 3.700" stroke="#1f6fc2" stroke-width="1.050" stroke-linecap="round" stroke-linejoin="round"/></svg>
<span class="t" style="left:222.40px;top:370.44px;font-size:7.5px;line-height:9.75px;color:#1f6fc2;letter-spacing:-0.175px;-webkit-text-stroke:.25px #1f6fc2;">Labour rights</span>
<div class="badge" style="left:358.1px;top:370.61px;width:22.6px;background:#bcdcf6"></div>
<span class="t" style="left:361.92px;top:371.77px;font-size:5.6px;line-height:7.28px;color:#173b78;font-weight:700;letter-spacing:-0.366px;">Active</span>
<div class="badge" style="left:384.3px;top:370.61px;width:18.2px;background:#c6ecc9"></div>
<span class="t" style="left:388.08px;top:371.77px;font-size:5.6px;line-height:7.28px;color:#1c4722;font-weight:700;letter-spacing:-0.439px;">New</span>
<span class="t" style="left:447.60px;top:370.31px;font-size:7.7px;line-height:10.01px;color:#566270;letter-spacing:-0.176px;">570628</span>
<span class="t" style="left:496.60px;top:370.44px;font-size:7.5px;line-height:9.75px;color:#566270;letter-spacing:-0.481px;">Global ESG</span>
<span class="t" style="left:583.60px;top:370.44px;font-size:7.5px;line-height:9.75px;color:#566270;letter-spacing:-0.022px;">International</span>
<span class="t" style="left:662.00px;top:370.37px;font-size:7.6px;line-height:9.88px;color:#1f6fc2;letter-spacing:-0.079px;">1 Alerts</span>
<span class="t" style="left:702.60px;top:370.37px;font-size:7.6px;line-height:9.88px;color:#1f6fc2;letter-spacing:-0.291px;">1 Tools</span>
<div class="pill" style="left:742.8px;top:370.51px;width:32.4px;background:#c9efc9"></div>
<span class="t" style="left:746.93px;top:371.84px;font-size:5.5px;line-height:7.15px;color:#1c4722;font-weight:700;letter-spacing:-0.343px;">Compliant</span>
<div class="av" style="left:832.7px;top:368.21px"></div>
<span class="t" style="left:835.96px;top:371.96px;font-size:5px;line-height:6.5px;color:#fff;letter-spacing:-0.386px;">MJ</span>
<div class="av" style="left:845.3px;top:368.21px"></div>
<span class="t" style="left:848.56px;top:371.96px;font-size:5px;line-height:6.5px;color:#fff;letter-spacing:-0.386px;">MJ</span>
<div class="av" style="left:857.9px;top:368.21px"></div>
<span class="t" style="left:861.52px;top:371.96px;font-size:5px;line-height:6.5px;color:#fff;letter-spacing:-0.152px;">+2</span>
<div style="position:absolute;left:206.7px;top:385.64px;width:688px;height:20.46px;background:#eff3f7;"></div>
<div style="position:absolute;left:206.7px;top:406.1px;width:688px;height:1px;background:#e1e6ed;"></div>
<svg style="position:absolute;left:215.5px;top:394.27px;" width="3" height="4.4" viewBox="0 0 3 4.4" fill="none"><path d="M.8.700L2.300 2.200.8 3.700" stroke="#1f6fc2" stroke-width="1.050" stroke-linecap="round" stroke-linejoin="round"/></svg>
<span class="t" style="left:222.40px;top:391.90px;font-size:7.5px;line-height:9.75px;color:#1f6fc2;letter-spacing:-0.167px;-webkit-text-stroke:.25px #1f6fc2;">Occupational health and safety</span>
<div class="badge" style="left:358.1px;top:392.07px;width:22.6px;background:#bcdcf6"></div>
<span class="t" style="left:361.92px;top:393.23px;font-size:5.6px;line-height:7.28px;color:#173b78;font-weight:700;letter-spacing:-0.366px;">Active</span>
<div class="badge" style="left:384.3px;top:392.07px;width:28.2px;background:#f5d6a3"></div>
<span class="t" style="left:388.14px;top:393.23px;font-size:5.6px;line-height:7.28px;color:#3b2a0e;font-weight:700;letter-spacing:-0.311px;">Updated</span>
<span class="t" style="left:447.60px;top:391.77px;font-size:7.7px;line-height:10.01px;color:#566270;letter-spacing:-0.176px;">570632</span>
<span class="t" style="left:496.60px;top:391.90px;font-size:7.5px;line-height:9.75px;color:#566270;letter-spacing:-0.481px;">Global ESG</span>
<span class="t" style="left:583.60px;top:391.90px;font-size:7.5px;line-height:9.75px;color:#566270;letter-spacing:-0.022px;">International</span>
<span class="t" style="left:662.00px;top:391.83px;font-size:7.6px;line-height:9.88px;color:#1f6fc2;letter-spacing:-0.079px;">4 Alerts</span>
<span class="t" style="left:703.00px;top:391.90px;font-size:7.5px;line-height:9.75px;color:#566270;">/</span>
<div class="pill" style="left:742.8px;top:391.97px;width:54.4px;background:#f4e08c"></div>
<span class="t" style="left:747.09px;top:393.30px;font-size:5.5px;line-height:7.15px;color:#3a3205;font-weight:700;letter-spacing:-0.223px;">Partially Compliant</span>
<div class="av" style="left:832.7px;top:389.67px"></div>
<span class="t" style="left:835.96px;top:393.42px;font-size:5px;line-height:6.5px;color:#fff;letter-spacing:-0.386px;">MJ</span>
<div class="av" style="left:845.3px;top:389.67px"></div>
<span class="t" style="left:848.56px;top:393.42px;font-size:5px;line-height:6.5px;color:#fff;letter-spacing:-0.386px;">MJ</span>
<div class="av" style="left:857.9px;top:389.67px"></div>
<span class="t" style="left:861.52px;top:393.42px;font-size:5px;line-height:6.5px;color:#fff;letter-spacing:-0.152px;">+2</span>
<div style="position:absolute;left:206.7px;top:427.56px;width:688px;height:1px;background:#e1e6ed;"></div>
<svg style="position:absolute;left:215.5px;top:415.73px;" width="3" height="4.4" viewBox="0 0 3 4.4" fill="none"><path d="M.8.700L2.300 2.200.8 3.700" stroke="#1f6fc2" stroke-width="1.050" stroke-linecap="round" stroke-linejoin="round"/></svg>
<span class="t" style="left:222.40px;top:413.36px;font-size:7.5px;line-height:9.75px;color:#1f6fc2;letter-spacing:-0.239px;-webkit-text-stroke:.25px #1f6fc2;">Product assurance and consumer rig...</span>
<div class="badge" style="left:358.1px;top:413.53px;width:22.6px;background:#bcdcf6"></div>
<span class="t" style="left:361.92px;top:414.69px;font-size:5.6px;line-height:7.28px;color:#173b78;font-weight:700;letter-spacing:-0.366px;">Active</span>
<div class="badge" style="left:384.3px;top:413.53px;width:18.2px;background:#c6ecc9"></div>
<span class="t" style="left:388.08px;top:414.69px;font-size:5.6px;line-height:7.28px;color:#1c4722;font-weight:700;letter-spacing:-0.439px;">New</span>
<span class="t" style="left:447.60px;top:413.23px;font-size:7.7px;line-height:10.01px;color:#566270;letter-spacing:-0.176px;">570554</span>
<span class="t" style="left:496.60px;top:413.36px;font-size:7.5px;line-height:9.75px;color:#566270;letter-spacing:-0.481px;">Global ESG</span>
<span class="t" style="left:583.60px;top:413.36px;font-size:7.5px;line-height:9.75px;color:#566270;letter-spacing:-0.022px;">International</span>
<span class="t" style="left:662.00px;top:413.29px;font-size:7.6px;line-height:9.88px;color:#1f6fc2;letter-spacing:-0.079px;">4 Alerts</span>
<span class="t" style="left:702.60px;top:413.29px;font-size:7.6px;line-height:9.88px;color:#1f6fc2;letter-spacing:-0.291px;">4 Tools</span>
<div class="pill" style="left:742.8px;top:413.43px;width:32.4px;background:#c9efc9"></div>
<span class="t" style="left:746.93px;top:414.76px;font-size:5.5px;line-height:7.15px;color:#1c4722;font-weight:700;letter-spacing:-0.343px;">Compliant</span>
<div class="av" style="left:832.7px;top:411.13px"></div>
<span class="t" style="left:835.96px;top:414.88px;font-size:5px;line-height:6.5px;color:#fff;letter-spacing:-0.386px;">MJ</span>
<div class="av" style="left:845.3px;top:411.13px"></div>
<span class="t" style="left:848.56px;top:414.88px;font-size:5px;line-height:6.5px;color:#fff;letter-spacing:-0.386px;">MJ</span>
<div class="av" style="left:857.9px;top:411.13px"></div>
<span class="t" style="left:861.52px;top:414.88px;font-size:5px;line-height:6.5px;color:#fff;letter-spacing:-0.152px;">+2</span>
<div style="position:absolute;left:206.7px;top:428.56px;width:688px;height:20.46px;background:#eff3f7;"></div>
<div style="position:absolute;left:206.7px;top:449.02px;width:688px;height:1px;background:#e1e6ed;"></div>
<svg style="position:absolute;left:215.5px;top:437.19px;" width="3" height="4.4" viewBox="0 0 3 4.4" fill="none"><path d="M.8.700L2.300 2.200.8 3.700" stroke="#1f6fc2" stroke-width="1.050" stroke-linecap="round" stroke-linejoin="round"/></svg>
<span class="t" style="left:222.40px;top:434.82px;font-size:7.5px;line-height:9.75px;color:#1f6fc2;letter-spacing:-0.192px;-webkit-text-stroke:.25px #1f6fc2;">Privacy and data security</span>
<div class="badge" style="left:358.1px;top:434.99px;width:22.6px;background:#bcdcf6"></div>
<span class="t" style="left:361.92px;top:436.15px;font-size:5.6px;line-height:7.28px;color:#173b78;font-weight:700;letter-spacing:-0.366px;">Active</span>
<div class="badge" style="left:384.3px;top:434.99px;width:28.2px;background:#f5d6a3"></div>
<span class="t" style="left:388.14px;top:436.15px;font-size:5.6px;line-height:7.28px;color:#3b2a0e;font-weight:700;letter-spacing:-0.311px;">Updated</span>
<span class="t" style="left:447.60px;top:434.69px;font-size:7.7px;line-height:10.01px;color:#566270;letter-spacing:-0.176px;">570560</span>
<span class="t" style="left:496.60px;top:434.82px;font-size:7.5px;line-height:9.75px;color:#566270;letter-spacing:-0.481px;">Global ESG</span>
<span class="t" style="left:583.60px;top:434.82px;font-size:7.5px;line-height:9.75px;color:#566270;letter-spacing:-0.022px;">International</span>
<span class="t" style="left:662.00px;top:434.75px;font-size:7.6px;line-height:9.88px;color:#1f6fc2;letter-spacing:-0.079px;">1 Alerts</span>
<span class="t" style="left:702.60px;top:434.75px;font-size:7.6px;line-height:9.88px;color:#1f6fc2;letter-spacing:-0.291px;">1 Tools</span>
<div class="pill" style="left:742.8px;top:434.89px;width:32.4px;background:#c9efc9"></div>
<span class="t" style="left:746.93px;top:436.22px;font-size:5.5px;line-height:7.15px;color:#1c4722;font-weight:700;letter-spacing:-0.343px;">Compliant</span>
<div class="av" style="left:832.7px;top:432.59px"></div>
<span class="t" style="left:835.96px;top:436.34px;font-size:5px;line-height:6.5px;color:#fff;letter-spacing:-0.386px;">MJ</span>
<div class="av" style="left:845.3px;top:432.59px"></div>
<span class="t" style="left:848.56px;top:436.34px;font-size:5px;line-height:6.5px;color:#fff;letter-spacing:-0.386px;">MJ</span>
<div class="av" style="left:857.9px;top:432.59px"></div>
<span class="t" style="left:861.52px;top:436.34px;font-size:5px;line-height:6.5px;color:#fff;letter-spacing:-0.152px;">+2</span>
<div style="position:absolute;left:206.7px;top:470.48px;width:688px;height:1px;background:#e1e6ed;"></div>
<svg style="position:absolute;left:215.5px;top:458.65px;" width="3" height="4.4" viewBox="0 0 3 4.4" fill="none"><path d="M.8.700L2.300 2.200.8 3.700" stroke="#1f6fc2" stroke-width="1.050" stroke-linecap="round" stroke-linejoin="round"/></svg>
<span class="t" style="left:222.40px;top:456.28px;font-size:7.5px;line-height:9.75px;color:#1f6fc2;letter-spacing:-0.132px;-webkit-text-stroke:.25px #1f6fc2;">Community impact</span>
<div class="badge" style="left:358.1px;top:456.45px;width:28.6px;background:#eceff3"></div>
<span class="t" style="left:361.80px;top:457.61px;font-size:5.6px;line-height:7.28px;color:#20252d;font-weight:700;letter-spacing:-0.392px;">Archived</span>
<div class="badge" style="left:390.3px;top:456.45px;width:23.6px;background:#eceff3"></div>
<span class="t" style="left:393.96px;top:457.61px;font-size:5.6px;line-height:7.28px;color:#20252d;font-weight:700;letter-spacing:-0.476px;">Recent</span>
<span class="t" style="left:447.60px;top:456.15px;font-size:7.7px;line-height:10.01px;color:#566270;letter-spacing:-0.176px;">570564</span>
<span class="t" style="left:496.60px;top:456.28px;font-size:7.5px;line-height:9.75px;color:#566270;letter-spacing:-0.481px;">Global ESG</span>
<span class="t" style="left:583.60px;top:456.28px;font-size:7.5px;line-height:9.75px;color:#566270;letter-spacing:-0.022px;">International</span>
<span class="t" style="left:662.00px;top:456.21px;font-size:7.6px;line-height:9.88px;color:#1f6fc2;letter-spacing:-0.079px;">3 Alerts</span>
<span class="t" style="left:702.60px;top:456.21px;font-size:7.6px;line-height:9.88px;color:#1f6fc2;letter-spacing:-0.291px;">3 Tools</span>
<div class="pill" style="left:742.8px;top:456.35px;width:32.4px;background:#c9efc9"></div>
<span class="t" style="left:746.93px;top:457.68px;font-size:5.5px;line-height:7.15px;color:#1c4722;font-weight:700;letter-spacing:-0.343px;">Compliant</span>
<div class="av" style="left:832.7px;top:454.05px"></div>
<span class="t" style="left:835.96px;top:457.80px;font-size:5px;line-height:6.5px;color:#fff;letter-spacing:-0.386px;">MJ</span>
<div class="av" style="left:845.3px;top:454.05px"></div>
<span class="t" style="left:848.56px;top:457.80px;font-size:5px;line-height:6.5px;color:#fff;letter-spacing:-0.386px;">MJ</span>
<div class="av" style="left:857.9px;top:454.05px"></div>
<span class="t" style="left:861.52px;top:457.80px;font-size:5px;line-height:6.5px;color:#fff;letter-spacing:-0.152px;">+2</span>
<div style="position:absolute;left:206.7px;top:471.48px;width:688px;height:20.46px;background:#eff3f7;"></div>
<div style="position:absolute;left:206.7px;top:491.94px;width:688px;height:1px;background:#e1e6ed;"></div>
<svg style="position:absolute;left:215.5px;top:480.11px;" width="3" height="4.4" viewBox="0 0 3 4.4" fill="none"><path d="M.8.700L2.300 2.200.8 3.700" stroke="#1f6fc2" stroke-width="1.050" stroke-linecap="round" stroke-linejoin="round"/></svg>
<span class="t" style="left:222.40px;top:477.74px;font-size:7.5px;line-height:9.75px;color:#1f6fc2;letter-spacing:-0.189px;-webkit-text-stroke:.25px #1f6fc2;">Social impact of the supply chain</span>
<div class="badge" style="left:358.1px;top:477.91px;width:22.6px;background:#bcdcf6"></div>
<span class="t" style="left:361.92px;top:479.07px;font-size:5.6px;line-height:7.28px;color:#173b78;font-weight:700;letter-spacing:-0.366px;">Active</span>
<div class="badge" style="left:384.3px;top:477.91px;width:18.2px;background:#c6ecc9"></div>
<span class="t" style="left:388.08px;top:479.07px;font-size:5.6px;line-height:7.28px;color:#1c4722;font-weight:700;letter-spacing:-0.439px;">New</span>
<span class="t" style="left:447.60px;top:477.61px;font-size:7.7px;line-height:10.01px;color:#566270;letter-spacing:-0.176px;">570568</span>
<span class="t" style="left:496.60px;top:477.74px;font-size:7.5px;line-height:9.75px;color:#566270;letter-spacing:-0.481px;">Global ESG</span>
<span class="t" style="left:583.60px;top:477.74px;font-size:7.5px;line-height:9.75px;color:#566270;letter-spacing:-0.022px;">International</span>
<span class="t" style="left:662.00px;top:477.67px;font-size:7.6px;line-height:9.88px;color:#1f6fc2;letter-spacing:-0.079px;">4 Alerts</span>
<span class="t" style="left:702.60px;top:477.67px;font-size:7.6px;line-height:9.88px;color:#1f6fc2;letter-spacing:-0.291px;">4 Tools</span>
<div class="pill" style="left:742.8px;top:477.81px;width:54.4px;background:#f4e08c"></div>
<span class="t" style="left:747.09px;top:479.14px;font-size:5.5px;line-height:7.15px;color:#3a3205;font-weight:700;letter-spacing:-0.223px;">Partially Compliant</span>
<div class="av" style="left:832.7px;top:475.51px"></div>
<span class="t" style="left:835.96px;top:479.26px;font-size:5px;line-height:6.5px;color:#fff;letter-spacing:-0.386px;">MJ</span>
<div class="av" style="left:845.3px;top:475.51px"></div>
<span class="t" style="left:848.56px;top:479.26px;font-size:5px;line-height:6.5px;color:#fff;letter-spacing:-0.386px;">MJ</span>
<div class="av" style="left:857.9px;top:475.51px"></div>
<span class="t" style="left:861.52px;top:479.26px;font-size:5px;line-height:6.5px;color:#fff;letter-spacing:-0.152px;">+2</span>
<div style="position:absolute;left:350.5px;top:170.5px;width:1.2px;height:322.3px;background:#e0e5ee;"></div>
<div style="position:absolute;left:347.2px;top:170.5px;width:3px;height:322.3px;background:linear-gradient(90deg,rgba(120,140,170,0),rgba(120,140,170,.035));"></div>
<div style="position:absolute;left:351.2px;top:188px;width:89px;height:103px;background:#fff;border-radius:2px;box-shadow:0 1px 5px rgba(30,45,70,.32),0 0 1px rgba(30,45,70,.3)"></div>
<div class="cb" style="left:358.8px;top:193.9px;width:3.200px;height:3.200px;border-width:1.1px;border-radius:1.1px;border-color:#333e4e"></div>
<span class="t" style="left:368.90px;top:192.97px;font-size:6.5px;line-height:8.45px;color:#2b3544;letter-spacing:0.083px;">Active</span>
<div class="cb" style="left:366px;top:208.2px;width:3.200px;height:3.200px;border-width:1.1px;border-radius:1.1px;border-color:#333e4e"></div>
<span class="t" style="left:376.10px;top:207.28px;font-size:6.5px;line-height:8.45px;color:#6a7482;letter-spacing:-0.005px;">New</span>
<div class="cb" style="left:366px;top:222.5px;width:3.200px;height:3.200px;border-width:1.1px;border-radius:1.1px;border-color:#333e4e"></div>
<span class="t" style="left:376.10px;top:221.57px;font-size:6.5px;line-height:8.45px;color:#6a7482;">Updated</span>
<div class="cb" style="left:366px;top:236.8px;width:3.200px;height:3.200px;border-width:1.1px;border-radius:1.1px;border-color:#333e4e"></div>
<span class="t" style="left:376.10px;top:235.88px;font-size:6.5px;line-height:8.45px;color:#6a7482;letter-spacing:-0.255px;">No Change</span>
<div class="cb" style="left:358.8px;top:251.1px;width:3.200px;height:3.200px;border-width:1.1px;border-radius:1.1px;border-color:#333e4e"></div>
<span class="t" style="left:368.90px;top:250.18px;font-size:6.5px;line-height:8.45px;color:#2b3544;letter-spacing:0.013px;">Archived</span>
<div class="cb" style="left:366px;top:265.4px;width:3.200px;height:3.200px;border-width:1.1px;border-radius:1.1px;border-color:#333e4e"></div>
<span class="t" style="left:376.10px;top:264.48px;font-size:6.5px;line-height:8.45px;color:#6a7482;letter-spacing:-0.035px;">Recent</span>
<div class="cb" style="left:366px;top:279.7px;width:3.200px;height:3.200px;border-width:1.1px;border-radius:1.1px;border-color:#333e4e"></div>
<span class="t" style="left:376.10px;top:278.77px;font-size:6.5px;line-height:8.45px;color:#6a7482;letter-spacing:0.019px;">Older</span>
<div style="position:absolute;left:750px;top:165.6px;width:125px;height:46.400px;background:#fff;border-radius:2px;box-shadow:0 1px 5px rgba(30,45,70,.32),0 0 1px rgba(30,45,70,.3)"></div>
<span class="t" style="left:756.90px;top:170.74px;font-size:6.4px;line-height:8.32px;color:#69727f;letter-spacing:-0.170px;">Sequence ID (default)</span>
<span class="t" style="left:756.90px;top:184.94px;font-size:6.4px;line-height:8.32px;color:#69727f;letter-spacing:-0.015px;">Obligation title (A-Z)</span>
<span class="t" style="left:756.90px;top:199.14px;font-size:6.4px;line-height:8.32px;color:#69727f;letter-spacing:-0.042px;">Most recently updated</span>
<svg style="position:absolute;left:861.3px;top:171.8px;" width="6" height="5" viewBox="0 0 6 5" fill="none"><path d="M.6 2.800L2.200 4.300 5.400.7" stroke="#3e4757" stroke-width=".9" stroke-linecap="round" stroke-linejoin="round"/></svg>
<svg style="position:absolute;left:395.8px;top:509.4px;" width="4" height="6" viewBox="0 0 4 6" fill="none"><path d="M3.200.7L.9 3 3.200 5.300" stroke="#2b3544" stroke-width="1.100" stroke-linecap="round" stroke-linejoin="round"/></svg>
<div style="position:absolute;left:408.7px;top:503.4px;width:17.4px;height:17.700px;border-radius:2.5px;background:#22355a;border:1px solid #101d40;box-sizing:border-box"></div>
<span class="t" style="left:415.62px;top:508.84px;font-size:6.4px;line-height:8.32px;color:#fff;font-weight:700;">1</span>
<span class="t" style="left:434.92px;top:508.84px;font-size:6.4px;line-height:8.32px;color:#323d4d;font-weight:700;">2</span>
<span class="t" style="left:454.62px;top:508.84px;font-size:6.4px;line-height:8.32px;color:#323d4d;font-weight:700;">3</span>
<span class="t" style="left:474.22px;top:508.84px;font-size:6.4px;line-height:8.32px;color:#323d4d;font-weight:700;">4</span>
<span class="t" style="left:493.92px;top:508.84px;font-size:6.4px;line-height:8.32px;color:#323d4d;font-weight:700;">5</span>
<span class="t" style="left:512.74px;top:508.84px;font-size:6.4px;line-height:8.32px;color:#323d4d;font-weight:700;">...</span>
<span class="t" style="left:533.22px;top:508.84px;font-size:6.4px;line-height:8.32px;color:#323d4d;font-weight:700;">9</span>
<svg style="position:absolute;left:552.8px;top:509.4px;" width="4" height="6" viewBox="0 0 4 6" fill="none"><path d="M.8.700L3.100 3 .8 5.300" stroke="#2b3544" stroke-width="1.100" stroke-linecap="round" stroke-linejoin="round"/></svg>
<span class="t" style="left:575.10px;top:508.32px;font-size:7.2px;line-height:9.36px;color:#566270;letter-spacing:-0.168px;">Items per page</span>
<div style="position:absolute;left:624.2px;top:503.2px;width:35.6px;height:18px;border:1.2px solid #bcc8df;border-radius:2.5px;box-sizing:border-box;background:#fff"></div>
<span class="t" style="left:631.18px;top:508.19px;font-size:7.4px;line-height:9.62px;color:#3f4a5a;">12</span>
<svg style="position:absolute;left:646.1px;top:510.95px;" width="5" height="3.3" viewBox="0 0 5 3.3" fill="none"><path d="M1 .800L2.500 2.200 4 .8" stroke="#2f3a4a" stroke-width="1.050" stroke-linecap="round" stroke-linejoin="round"/></svg>
<span class="t" style="left:664.20px;top:508.25px;font-size:7.3px;line-height:9.49px;color:#4a5565;letter-spacing:-0.079px;-webkit-text-stroke:.15px #4a5565;">1- 10 of 156</span>
</div>
</body></html>
